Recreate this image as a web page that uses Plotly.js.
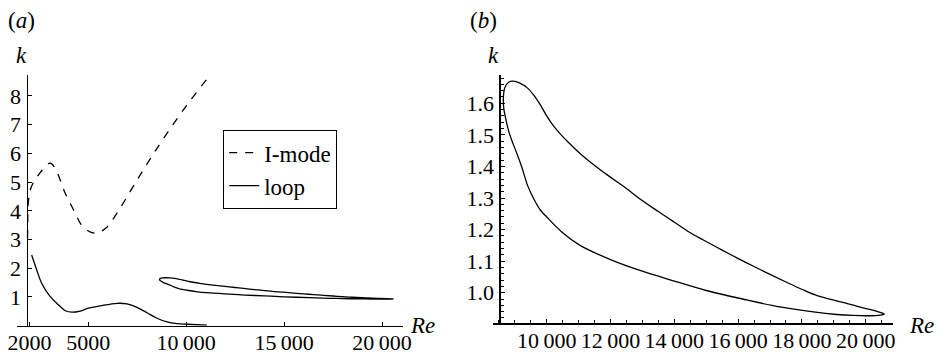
<!DOCTYPE html>
<html>
<head>
<meta charset="utf-8">
<script src="https://cdn.plot.ly/plotly-3.0.1.min.js"></script>
<style>html,body{margin:0;padding:0;background:#fff;}#chart{width:938px;height:357px;}</style>
</head>
<body>
<div id="chart"></div>
<script>
// ---- Panel (a): I-mode (dashed) ----
const imodeRe = [1900, 1910, 1940, 2050, 2250, 2460, 2750, 3060, 3300, 3570, 3800, 4080, 4350, 4590, 4900, 5150, 5390, 5650, 5900, 6130, 6400, 6725, 7490, 8200, 9020, 10000, 11050];
const imodeK  = [3.05, 3.6, 4.3, 4.75, 5.05, 5.25, 5.5, 5.66, 5.5, 5.07, 4.65, 4.26, 3.9, 3.57, 3.35, 3.25, 3.22, 3.28, 3.4, 3.57, 3.85, 4.2, 5.07, 5.85, 6.70, 7.65, 8.58];

// ---- Panel (a): lower solid branch ----
const lowRe = [2110, 2370, 2620, 3060, 3490, 3830, 4170, 4590, 5010, 5610, 6470, 6980, 7490, 8000, 8510, 9020, 9530, 10040, 11060];
const lowK  = [2.46, 1.94, 1.48, 1.01, 0.72, 0.52, 0.47, 0.51, 0.61, 0.69, 0.78, 0.76, 0.64, 0.45, 0.26, 0.13, 0.07, 0.05, 0.02];

// ---- Closed loop (both panels) ----
const loopRe = [8934, 9163, 9400, 9600, 9800, 10000, 10200, 10417, 10700, 11044, 11500, 11984, 12500, 12925, 13500, 13990, 14500, 14910, 15500, 15990, 16500, 17000, 17500, 17995, 18500, 19250, 19800, 20250, 20500, 20580,
                20450, 20100, 19600, 19090, 18360, 17315, 16270, 15000, 14000, 13000, 12000, 11044, 10500, 10000, 9800, 9580, 9400, 9216, 9050, 8903, 8800, 8725, 8660, 8640, 8650, 8690, 8796, 8934];
const loopK  = [1.670, 1.664, 1.648, 1.625, 1.595, 1.560, 1.530, 1.504, 1.474, 1.441, 1.403, 1.367, 1.330, 1.297, 1.257, 1.224, 1.190, 1.167, 1.135, 1.109, 1.083, 1.058, 1.034, 1.011, 0.990, 0.970, 0.955, 0.944, 0.936, 0.932,
                0.929, 0.927, 0.928, 0.931, 0.939, 0.955, 0.977, 1.007, 1.037, 1.068, 1.105, 1.150, 1.190, 1.240, 1.262, 1.300, 1.340, 1.399, 1.445, 1.483, 1.515, 1.547, 1.580, 1.605, 1.630, 1.650, 1.666, 1.670];

// ---- Tick labels ----
const aXTickVals = [2000, 5000, 10000, 15000, 20000];
const aXTickText = ["2000", "5000", "10\u2009000", "15\u2009000", "20\u2009000"];
const aYTickVals = [1, 2, 3, 4, 5, 6, 7, 8];
const bXTickVals = [10000, 12000, 14000, 16000, 18000, 20000];
const bXTickText = ["10\u2009000", "12\u2009000", "14\u2009000", "16\u2009000", "18\u2009000", "20\u2009000"];
const bYTickVals = [1.0, 1.1, 1.2, 1.3, 1.4, 1.5, 1.6];
const bYTickText = ["1.0", "1.1", "1.2", "1.3", "1.4", "1.5", "1.6"];

const W = 938, H = 357;
const FONT = "'Liberation Serif', 'Times New Roman', serif";
const FS = 22;
const lw = 1.3;

const traces = [
  {x: imodeRe, y: imodeK, xaxis: 'x', yaxis: 'y', mode: 'lines', name: 'I-mode',
   line: {color: '#000', width: lw, dash: '8px,8px', shape: 'spline', smoothing: 1}},
  {x: lowRe, y: lowK, xaxis: 'x', yaxis: 'y', mode: 'lines', name: 'loop',
   line: {color: '#000', width: lw, shape: 'spline', smoothing: 1}},
  {x: loopRe, y: loopK, xaxis: 'x', yaxis: 'y', mode: 'lines', name: 'loop', showlegend: false,
   line: {color: '#000', width: lw, shape: 'spline', smoothing: 1}},
  {x: loopRe, y: loopK, xaxis: 'x2', yaxis: 'y2', mode: 'lines', name: 'loop', showlegend: false,
   line: {color: '#000', width: lw, shape: 'spline', smoothing: 1}}
];

const ax = (o) => Object.assign({
  showgrid: false, zeroline: false, showline: true, linecolor: '#000', linewidth: 1.3,
  ticks: 'inside', ticklen: 4, tickcolor: '#000', tickwidth: 1, tickangle: 0,
  tickfont: {family: FONT, size: FS, color: '#000'}, fixedrange: true
}, o);

const ann = (text, px, py) => ({text: text, x: px / W, y: 1 - py / H, xref: 'paper', yref: 'paper',
  xanchor: 'center', yanchor: 'middle', showarrow: false, font: {family: FONT, size: 23, color: '#000'}});

const layout = {
  width: W, height: H,
  margin: {l: 0, r: 0, t: 0, b: 0},
  paper_bgcolor: '#fff', plot_bgcolor: 'rgba(0,0,0,0)',
  font: {family: FONT, size: FS, color: '#000'},
  showlegend: true,
  legend: {x: 223 / W, y: 1 - 130 / H, xanchor: 'left', yanchor: 'top',
           bordercolor: '#000', borderwidth: 1.2, bgcolor: '#fff',
           font: {family: FONT, size: 23, color: '#000'}, itemwidth: 30, tracegroupgap: 0},
  xaxis: ax({domain: [17 / W, 403 / W], range: [1362, 21072], anchor: 'y',
             tickmode: 'array', tickvals: aXTickVals, ticktext: aXTickText, ticklabelstandoff: -3}),
  yaxis: ax({domain: [1 - 325.7 / H, 1 - 75 / H], range: [0, 8.73], anchor: 'free', position: 26.5 / W,
             tickmode: 'array', tickvals: aYTickVals, ticklabelstandoff: 1}),
  xaxis2: ax({domain: [493.3 / W, 893.3 / W], range: [8326, 20865], anchor: 'y2',
              tickmode: 'array', tickvals: bXTickVals, ticktext: bXTickText, ticklabelstandoff: -3,
              minor: {dtick: 500, tick0: 0, ticks: 'inside', ticklen: 3, tickcolor: '#000', showgrid: false}}),
  yaxis2: ax({domain: [1 - 323.3 / H, 1 - 75 / H], range: [0.9031, 1.6896], anchor: 'free', position: 499.3 / W,
              tickmode: 'array', tickvals: bYTickVals, ticktext: bYTickText, ticklabelstandoff: 1,
              minor: {dtick: 0.02, tick0: 0, ticks: 'inside', ticklen: 3, tickcolor: '#000', showgrid: false}}),
  annotations: [
    ann('(<i>a</i>)', 21, 20),
    ann('(<i>b</i>)', 483, 20),
    ann('<i>k</i>', 21, 55),
    ann('<i>k</i>', 493, 55),
    ann('<i>Re</i>', 422, 325),
    ann('<i>Re</i>', 921, 325)
  ]
};

Plotly.newPlot('chart', traces, layout, {staticPlot: true, displayModeBar: false});
</script>
</body>
</html>
